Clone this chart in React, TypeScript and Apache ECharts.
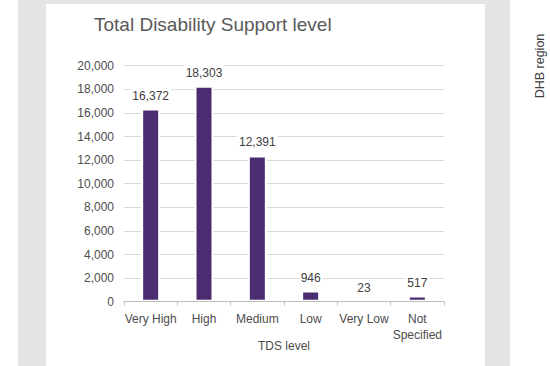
import React, { useEffect, useRef } from "react";
import * as echarts from "echarts";

const categories = ["Very High", "High", "Medium", "Low", "Very Low", "Not Specified"];
const values = [16372, 18303, 12391, 946, 23, 517];
const yTicks = { min: 0, max: 20000, interval: 2000 };
const titleText = "Total Disability Support level";
const xAxisName = "TDS level";
const sideText = "DHB region";

const FONT = "'Liberation Sans', Arial, sans-serif";

export default function App() {
  const ref = useRef<HTMLDivElement>(null);
  useEffect(() => {
    document.body.style.margin = "0";
    const chart = echarts.init(ref.current!, null, { renderer: "svg" });
    chart.setOption({
      animation: false,
      backgroundColor: "#ffffff",
      graphic: [
        { type: "rect", z: -10, silent: true, shape: { x: 18, y: 0, width: 492, height: 366 }, style: { fill: "#e4e4e4" } },
        { type: "rect", z: -9, silent: true, shape: { x: 46, y: 4, width: 439, height: 362 }, style: { fill: "#ffffff" } },
        {
          type: "text",
          x: 540,
          y: 66,
          rotation: Math.PI / 2,
          style: {
            text: sideText,
            font: `12.5px ${FONT}`,
            fill: "#404040",
            align: "center",
            verticalAlign: "middle",
          },
        },
      ],
      title: {
        text: titleText,
        left: 89,
        top: 10,
        textStyle: { fontFamily: FONT, fontSize: 19, fontWeight: "normal", color: "#595959" },
      },
      grid: { left: 124, right: 106, top: 65.7, bottom: 64.3, containLabel: false },
      xAxis: {
        type: "category",
        data: categories,
        z: 5,
        name: xAxisName,
        nameLocation: "middle",
        nameGap: 38,
        nameMoveOverlap: false,
        nameTextStyle: { fontFamily: FONT, fontSize: 12, color: "#4d4d4d" },
        axisLine: { lineStyle: { color: "#bfbfbf", width: 1 } },
        axisTick: { show: true, length: 4, lineStyle: { color: "#bfbfbf" } },
        axisLabel: {
          margin: 9,
          fontFamily: FONT,
          fontSize: 12,
          color: "#4d4d4d",
          lineHeight: 16,
          interval: 0,
          formatter: (v: string) => (v === "Not Specified" ? "Not\nSpecified" : v),
        },
      },
      yAxis: {
        type: "value",
        min: yTicks.min,
        max: yTicks.max,
        interval: yTicks.interval,
        axisLine: { show: false },
        axisTick: { show: false },
        splitLine: { lineStyle: { color: "#d9d9d9", width: 1 } },
        axisLabel: {
          margin: 10,
          fontFamily: FONT,
          fontSize: 12,
          color: "#4d4d4d",
          formatter: (v: number) => v.toLocaleString("en-US"),
        },
      },
      series: [
        {
          type: "bar",
          data: values,
          barWidth: 19,
          itemStyle: { color: "#4b2c71", borderColor: "#ffffff", borderWidth: 2 },
          label: {
            show: true,
            position: "top",
            distance: 5,
            fontFamily: FONT,
            fontSize: 12,
            color: "#404040",
            backgroundColor: "#ffffff",
            padding: [2, 2],
            formatter: (p: any) => Number(p.value).toLocaleString("en-US"),
          },
        },
      ],
    });
    return () => chart.dispose();
  }, []);
  return <div ref={ref} style={{ position: "fixed", left: 0, top: 0, width: 550, height: 366 }} />;
}
